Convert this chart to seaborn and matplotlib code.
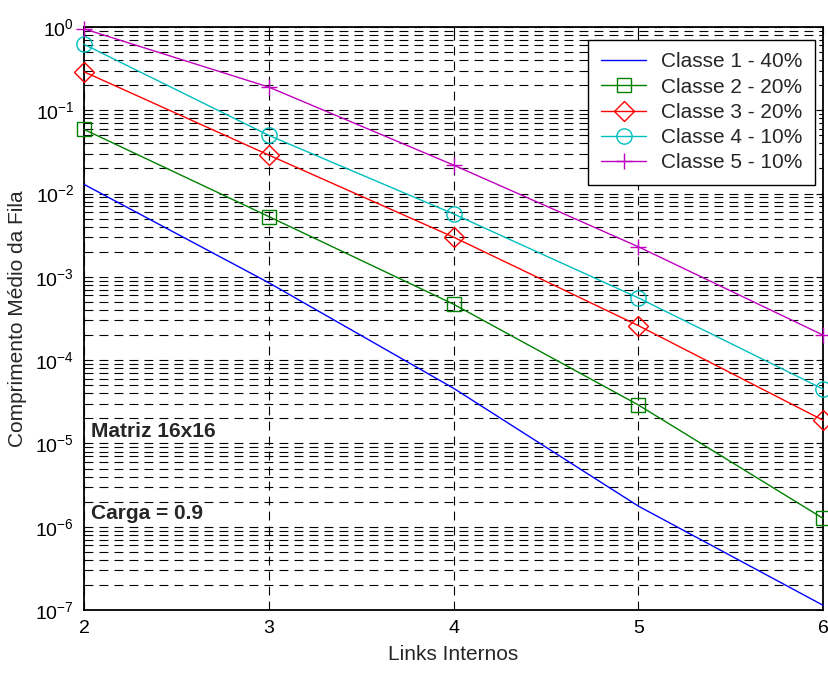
import numpy as np
import pandas as pd
import matplotlib
matplotlib.use("Agg")
import matplotlib.pyplot as plt
import seaborn as sns
from matplotlib.ticker import NullFormatter, FixedLocator, LogFormatterSciNotation

links = [2, 3, 4, 5, 6]
classe1 = [1.29e-2, 8.5e-4, 4.6e-5, 1.77e-6, 1.14e-7]
classe2 = [5.9e-2, 5.3e-3, 4.7e-4, 2.9e-5, 1.26e-6]
classe3 = [2.9e-1, 2.9e-2, 3.0e-3, 2.6e-4, 1.9e-5]
classe4 = [6.2e-1, 5.0e-2, 5.7e-3, 5.6e-4, 4.5e-5]
classe5 = [9.5e-1, 1.9e-1, 2.2e-2, 2.3e-3, 2.0e-4]
labels = ["Classe 1 - 40%", "Classe 2 - 20%", "Classe 3 - 20%",
          "Classe 4 - 10%", "Classe 5 - 10%"]
series = [classe1, classe2, classe3, classe4, classe5]
colors = ["#0000ff", "#008000", "#ff0000", "#00bfbf", "#bf00bf"]
markers = [None, "s", "D", "o", "+"]
msizes = [0, 10, 10, 11, 12]
y_major = [10.0 ** e for e in range(-7, 1)]
y_minor = [m * 10.0 ** e for e in range(-7, 0) for m in range(2, 10)]

sns.set_style("white")
plt.rcParams["font.family"] = ["Liberation Sans", "DejaVu Sans"]
plt.rcParams["mathtext.fontset"] = "custom"
plt.rcParams["mathtext.rm"] = "Liberation Sans"
plt.rcParams["mathtext.it"] = "Liberation Sans"
plt.rcParams["mathtext.default"] = "regular"
plt.rcParams["axes.unicode_minus"] = False

fig = plt.figure(figsize=(8.29, 6.73), dpi=100)
ax = fig.add_axes([0.1013, 0.0936, 0.8915, 0.8663])

for lab, vals, c, m, ms in zip(labels, series, colors, markers, msizes):
    df = pd.DataFrame({"x": links, "y": vals})
    kw = dict(linewidth=1.0, color=c, label=lab, clip_on=False, zorder=3)
    if m is not None:
        kw.update(marker=m, markersize=ms, markerfacecolor="none",
                  markeredgecolor=c, markeredgewidth=1.0)
    sns.lineplot(data=df, x="x", y="y", ax=ax, **kw)

ax.set_yscale("log")
ax.set_xlim(2, 6)
ax.set_ylim(1e-7, 1e0)
ax.xaxis.set_major_locator(FixedLocator(links))
ax.yaxis.set_major_locator(FixedLocator(y_major))
ax.yaxis.set_major_formatter(LogFormatterSciNotation(base=10))
ax.yaxis.set_minor_locator(FixedLocator(y_minor))
ax.yaxis.set_minor_formatter(NullFormatter())

dash = (0, (8, 5.5))
ax.grid(True, which="major", axis="both", color="black", linestyle=dash, linewidth=0.8)
ax.grid(True, which="minor", axis="y", color="black", linestyle=dash, linewidth=0.8)
ax.set_axisbelow(True)

for s in ax.spines.values():
    s.set_linewidth(1.3)
    s.set_color("black")
    s.set_visible(True)

ax.tick_params(axis="both", which="both", direction="in", labelsize=14, colors="black",
               top=True, right=True)
ax.tick_params(axis="both", which="major", length=5, pad=7)
ax.tick_params(axis="y", which="minor", length=3)

ax.set_xlabel("Links Internos", fontsize=15, labelpad=6)
ax.set_ylabel("Comprimento Médio da Fila", fontsize=15, labelpad=6)

ax.text(2.04, 1.38e-5, "Matriz 16x16", fontsize=15, fontweight="bold", va="center", ha="left")
ax.text(2.04, 1.45e-6, "Carga = 0.9", fontsize=15, fontweight="bold", va="center", ha="left")

leg = ax.legend(loc="upper right", fontsize=15, frameon=True, fancybox=False,
                edgecolor="black", framealpha=1.0, borderpad=0.6, borderaxespad=0,
                handlelength=2.2, handletextpad=0.7, labelspacing=0.3,
                bbox_to_anchor=(0.989, 0.978))
leg.get_frame().set_linewidth(1.0)

fig.savefig("out.png", dpi=100)
